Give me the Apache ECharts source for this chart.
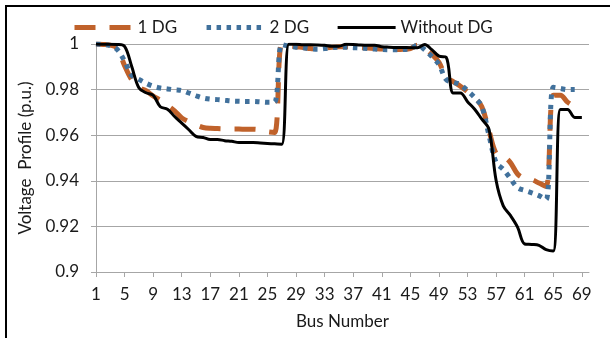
<!DOCTYPE html>
<html>
<head>
<meta charset="utf-8">
<script src="https://cdn.jsdelivr.net/npm/echarts@6/dist/echarts.min.js"></script>
<style>
  html, body { margin: 0; padding: 0; background: #ffffff; }
  #chart { width: 610px; height: 338px; }
</style>
</head>
<body>
<div id="chart"></div>
<script>
// Bus numbers of the 69-bus feeder
const busNumbers = [
  1, 2, 3, 4, 5, 6, 7, 8, 9, 10, 11, 12, 13, 14, 15, 16, 17, 18, 19, 20,
  21, 22, 23, 24, 25, 26, 27, 28, 29, 30, 31, 32, 33, 34, 35, 36, 37, 38, 39, 40,
  41, 42, 43, 44, 45, 46, 47, 48, 49, 50, 51, 52, 53, 54, 55, 56, 57, 58, 59, 60,
  61, 62, 63, 64, 65, 66, 67, 68, 69
];

// Voltage profile (p.u.) with one DG unit
const oneDG = [
  1.0000, 0.9998, 0.9995, 0.9980, 0.9905, 0.9843, 0.9810, 0.9795, 0.9772, 0.9753,
  0.9731, 0.9707, 0.9676, 0.9659, 0.9645, 0.9634, 0.9630, 0.9629, 0.9628, 0.9627,
  0.9627, 0.9626, 0.9626, 0.9623, 0.9615, 0.9612, 0.9998, 0.9992, 0.9988, 0.9985,
  0.9980, 0.9978, 0.9982, 0.9986, 0.9988, 0.9988, 0.9986, 0.9984, 0.9982, 0.9980,
  0.9978, 0.9977, 0.9976, 0.9977, 0.9980, 0.9995, 0.9980, 0.9955, 0.9920, 0.9855,
  0.9835, 0.9815, 0.9790, 0.9765, 0.9725, 0.9620, 0.9520, 0.9508, 0.9480, 0.9430,
  0.9410, 0.9405, 0.9390, 0.9375, 0.9775, 0.9775, 0.9745, 0.9725
];

// Voltage profile (p.u.) with two DG units
const twoDG = [
  1.0000, 0.9998, 0.9993, 0.9975, 0.9925, 0.9862, 0.9845, 0.9828, 0.9815, 0.9807,
  0.9803, 0.9799, 0.9796, 0.9785, 0.9773, 0.9763, 0.9758, 0.9756, 0.9753, 0.9750,
  0.9749, 0.9748, 0.9748, 0.9746, 0.9744, 0.9745, 0.9998, 0.9990, 0.9986, 0.9983,
  0.9979, 0.9977, 0.9980, 0.9984, 0.9986, 0.9986, 0.9984, 0.9982, 0.9980, 0.9978,
  0.9976, 0.9975, 0.9975, 0.9976, 0.9979, 0.9995, 0.9975, 0.9945, 0.9910, 0.9845,
  0.9832, 0.9822, 0.9795, 0.9765, 0.9725, 0.9600, 0.9480, 0.9450, 0.9410, 0.9370,
  0.9358, 0.9347, 0.9335, 0.9318, 0.9810, 0.9805, 0.9800, 0.9800
];

// Base-case voltage profile (p.u.) without DG
const withoutDG = [
  1.0000, 0.9999, 0.9999, 0.9998, 0.9990, 0.9901, 0.9808, 0.9786, 0.9775, 0.9725,
  0.9714, 0.9682, 0.9653, 0.9624, 0.9595, 0.9590, 0.9581, 0.9581, 0.9576, 0.9573,
  0.9568, 0.9568, 0.9568, 0.9566, 0.9564, 0.9562, 0.9560, 0.9999, 0.9999, 0.9997,
  0.9997, 0.9996, 0.9994, 0.9990, 0.9990, 0.9999, 0.9998, 0.9996, 0.9995, 0.9995,
  0.9988, 0.9986, 0.9985, 0.9985, 0.9984, 0.9984, 0.9998, 0.9975, 0.9947, 0.9942,
  0.9785, 0.9785, 0.9747, 0.9714, 0.9670, 0.9626, 0.9401, 0.9290, 0.9248, 0.9197,
  0.9123, 0.9121, 0.9117, 0.9098, 0.9092, 0.9713, 0.9713, 0.9678, 0.9678
];

// Bus numbers that carry a tick and label on the horizontal axis
const busTicks = [1, 5, 9, 13, 17, 21, 25, 29, 33, 37, 41, 45, 49, 53, 57, 61, 65, 69];

const seriesNames = ['1 DG', '2 DG', 'Without DG'];

const FONT = 'Lato';
const FONT_SIZE = 17;
const TEXT = '#1a1a1a';
const AXIS_GREY = '#a6a6a6';

function toPoints(values) {
  return values.map((v, i) => [busNumbers[i], v]);
}

const chart = echarts.init(document.getElementById('chart'), null, { renderer: 'canvas' });

chart.setOption({
  animation: false,
  backgroundColor: '#ffffff',
  textStyle: { fontFamily: FONT },
  graphic: [
    { type: 'line', shape: { x1: 6, y1: 6, x2: 610, y2: 6 }, style: { stroke: '#000', lineWidth: 2 } },
    { type: 'line', shape: { x1: 6, y1: 5, x2: 6, y2: 338 }, style: { stroke: '#000', lineWidth: 2 } }
  ],
  legend: {
    data: seriesNames,
    left: 67,
    top: 14,
    itemWidth: 58,
    itemHeight: 12,
    itemGap: 27,
    itemStyle: { opacity: 0 },
    lineStyle: { width: 'inherit' },
    textStyle: { fontFamily: FONT, fontSize: FONT_SIZE, color: TEXT }
  },
  grid: { left: 96, right: 21, top: 44, bottom: 66 },
  xAxis: {
    type: 'value',
    min: 1,
    max: 70,
    name: 'Bus Number',
    nameLocation: 'middle',
    nameGap: 41,
    nameTextStyle: { fontFamily: FONT, fontSize: FONT_SIZE, color: TEXT },
    axisLine: { show: true, lineStyle: { color: AXIS_GREY, width: 1 } },
    axisTick: { show: true, length: 5, customValues: busTicks, lineStyle: { color: AXIS_GREY } },
    axisLabel: { customValues: busTicks, margin: 14, fontFamily: FONT, fontSize: FONT_SIZE, color: TEXT },
    splitLine: { show: false }
  },
  yAxis: {
    type: 'value',
    min: 0.9,
    max: 1,
    interval: 0.02,
    name: 'Voltage  Profile (p.u.)',
    nameLocation: 'middle',
    nameGap: 55,
    nameTextStyle: { fontFamily: FONT, fontSize: FONT_SIZE, color: TEXT },
    axisLine: { show: true, lineStyle: { color: AXIS_GREY, width: 1 } },
    axisTick: { show: true, length: 5, lineStyle: { color: AXIS_GREY } },
    axisLabel: { margin: 17, fontFamily: FONT, fontSize: FONT_SIZE, color: TEXT },
    splitLine: { show: true, lineStyle: { color: AXIS_GREY, width: 1 } }
  },
  series: [
    {
      name: seriesNames[0],
      type: 'line',
      data: toPoints(oneDG),
      smooth: 0.35,
      symbol: 'none',
      lineStyle: { color: '#C0622B', width: 5, type: [21, 14], cap: 'butt' },
      itemStyle: { color: '#C0622B' }
    },
    {
      name: seriesNames[1],
      type: 'line',
      data: toPoints(twoDG),
      smooth: 0.35,
      symbol: 'none',
      lineStyle: { color: '#41719C', width: 5, type: [4.5, 5.5], cap: 'butt' },
      itemStyle: { color: '#41719C' }
    },
    {
      name: seriesNames[2],
      type: 'line',
      data: toPoints(withoutDG),
      smooth: 0.35,
      symbol: 'none',
      lineStyle: { color: '#000000', width: 3 },
      itemStyle: { color: '#000000' }
    }
  ]
});
</script>
</body>
</html>
